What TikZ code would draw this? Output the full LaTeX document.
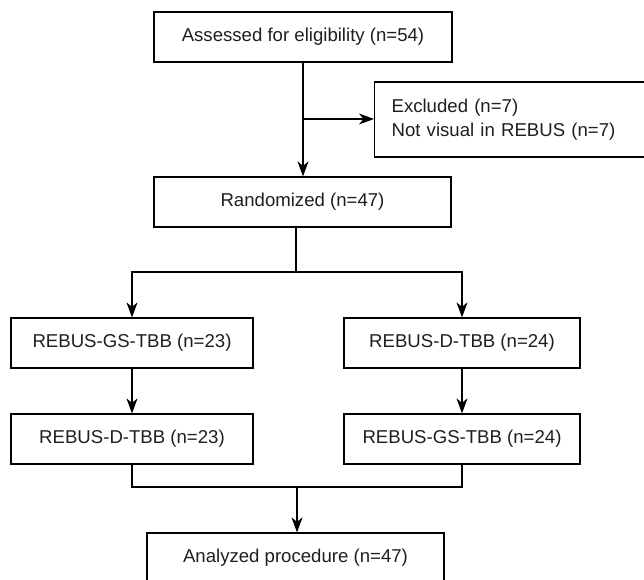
\documentclass[tikz,border=0pt]{standalone}
\usepackage{fontspec}
\setmainfont{Liberation Sans}
\usetikzlibrary{arrows.meta,calc}
\begin{document}
\begin{tikzpicture}[x=1pt,y=-1pt,
  box/.style={draw=black,line width=1.2pt,rectangle,minimum height=50pt,inner sep=0pt,
    font=\fontsize{18.6}{24}\selectfont,text=black!88},
  conn/.style={draw=black,line width=1.2pt},
  arr/.style={conn,-{Stealth[length=15pt,width=11pt,inset=4.5pt]}}]
\useasboundingbox (0,0) rectangle (644,579);
\clip (0,0) rectangle (644,579);
\fill[white] (0,0) rectangle (644,579);
\node[box,minimum width=298pt] (top) at (303,37) {Assessed for eligibility (n=54)};
\node[box,minimum width=300pt,minimum height=75pt,anchor=west,align=left,text width=300pt,inner xsep=0pt]
  (excl) at (374,119.5) {\hspace*{17pt}Excluded (n=7)\\\hspace*{17pt}Not visual in REBUS (n=7)};
\node[box,minimum width=297pt] (rand) at (302.5,202) {Randomized (n=47)};
\node[box,minimum width=242pt] (gs23) at (132,343) {REBUS-GS-TBB (n=23)};
\node[box,minimum width=236pt] (d24) at (462,343) {REBUS-D-TBB (n=24)};
\node[box,minimum width=242pt] (d23) at (132,439) {REBUS-D-TBB (n=23)};
\node[box,minimum width=236pt] (gs24) at (462,439) {REBUS-GS-TBB (n=24)};
\node[box,minimum width=297pt] (ana) at (295.5,558) {Analyzed procedure (n=47)};
\coordinate (split) at (303,119);
\coordinate (rb) at (296,272);
\coordinate (mb) at (297,487);
\draw[arr] (top.south) -- (top.south |- rand.north);
\draw[arr] (split) -- (split -| excl.west);
\draw[conn] (rand.south -| rb) -- (rb);
\draw[arr] (rb) -| (gs23.north);
\draw[arr] (rb) -| (d24.north);
\draw[arr] (gs23) -- (d23);
\draw[arr] (d24) -- (gs24);
\draw[conn] (d23.south) |- (mb) -| (gs24.south);
\draw[arr] (mb) -- (mb |- ana.north);
\end{tikzpicture}
\end{document}
